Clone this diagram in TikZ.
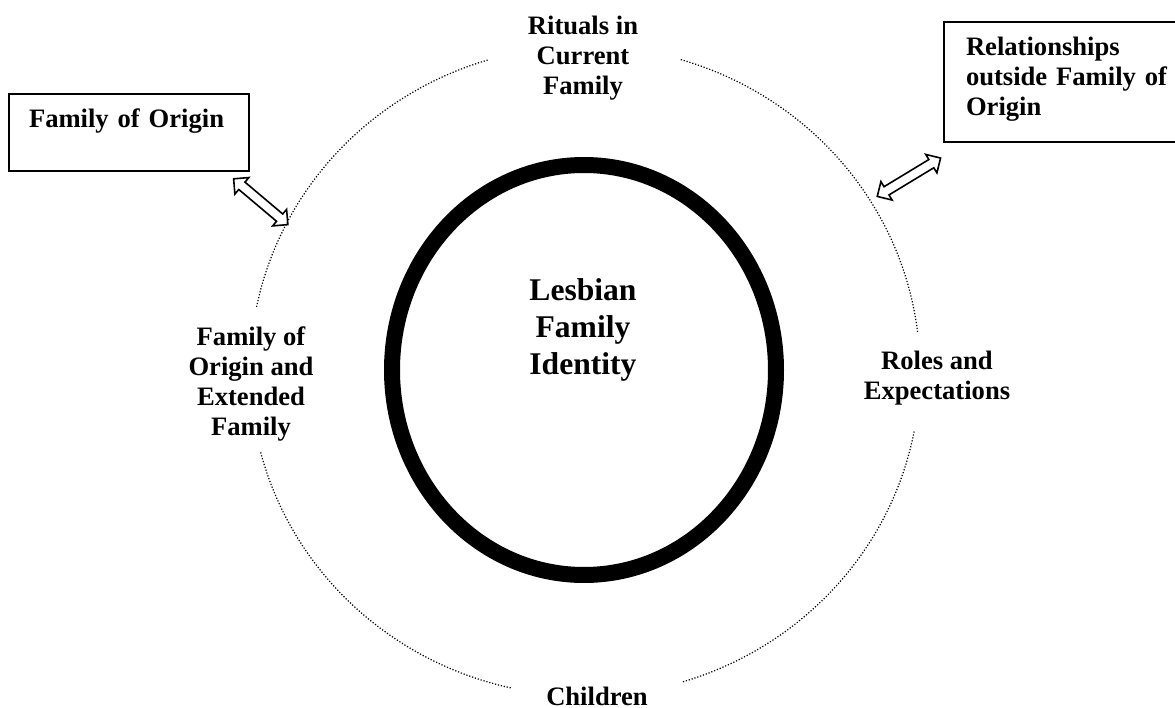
\documentclass[tikz,border=0pt]{standalone}
\usepackage{fontspec}
\setmainfont{Liberation Serif}
\usepackage{tikz}
\usetikzlibrary{calc, positioning, arrows.meta, shapes, shapes.arrows}
\tikzset{
	line width = .75pt,
	font = \fontsize{13.3pt}{15pt}\selectfont\bfseries,
	theme/.style={
		align=center,
		inner sep=0pt
	},
	box/.style={
		draw,
		line width=1pt,
		anchor=north west,
		align=left,
		inner xsep=10pt,
		inner ysep=7.5pt,
		text height=9.5pt
	},
	ring/.style={
		line width=.6pt,
		dash pattern=on .6pt off .9pt
	},
	core/.style={
		line width=8pt
	},
	twoway/.style={
		double arrow,
		draw,
		line width=.8pt,
		inner sep=2pt,
		double arrow head extend=3pt,
		minimum height=#1
	}
}

\begin{document}
\begin{tikzpicture}[x=.5pt, y=.5pt]
		\useasboundingbox (0,0) rectangle (1175,708);
		\coordinate (c) at (585,337);
		\coordinate (core) at (584,338);
		\draw[core] (core) ellipse [x radius=192, y radius=205];
		\foreach \a/\b in {6.9/73.6, 106.9/168.7, 194.5/257.3, 287/349.3}
			\draw[ring] ([shift={(\a:335 and 325)}]c) arc[start angle=\a, end angle=\b, x radius=335, y radius=325];
		\node[theme, font=\fontsize{15.8pt}{18.5pt}\selectfont\bfseries] at (583,378) (identity) {Lesbian\\Family\\Identity};
		\node[theme] at (583,650) (rituals) {Rituals in\\Current\\Family};
		\node[theme] at (251,324) (extended) {Family of\\Origin and\\Extended\\Family};
		\node[theme] at (937,330) (roles) {Roles and\\Expectations};
		\node[theme] at (597,12) (children) {Children};
		\node[box, text width=100pt, text depth=14pt] at (8,615) (origin) {Family of Origin};
		\node[box, inner xsep=11pt, text width=110pt, text depth=35.5pt] at (943,687) (outside) {Relationships\\outside Family of\\Origin};
		\coordinate (origin-tip) at ($(origin.south east)+(-15,-8)$);
		\coordinate (origin-ring) at ($(c)+(153:335 and 325)$);
		\coordinate (outside-tip) at ($(outside.south west)+(-4,-16)$);
		\coordinate (outside-ring) at ($(c)+(31.6:345 and 335)$);
		\path (origin-tip) -- node[twoway=35.5pt, sloped] (origin-arrow) {} (origin-ring);
		\path (outside-ring) -- node[twoway=37pt, sloped] (outside-arrow) {} (outside-tip);
	\end{tikzpicture}
\end{document}
